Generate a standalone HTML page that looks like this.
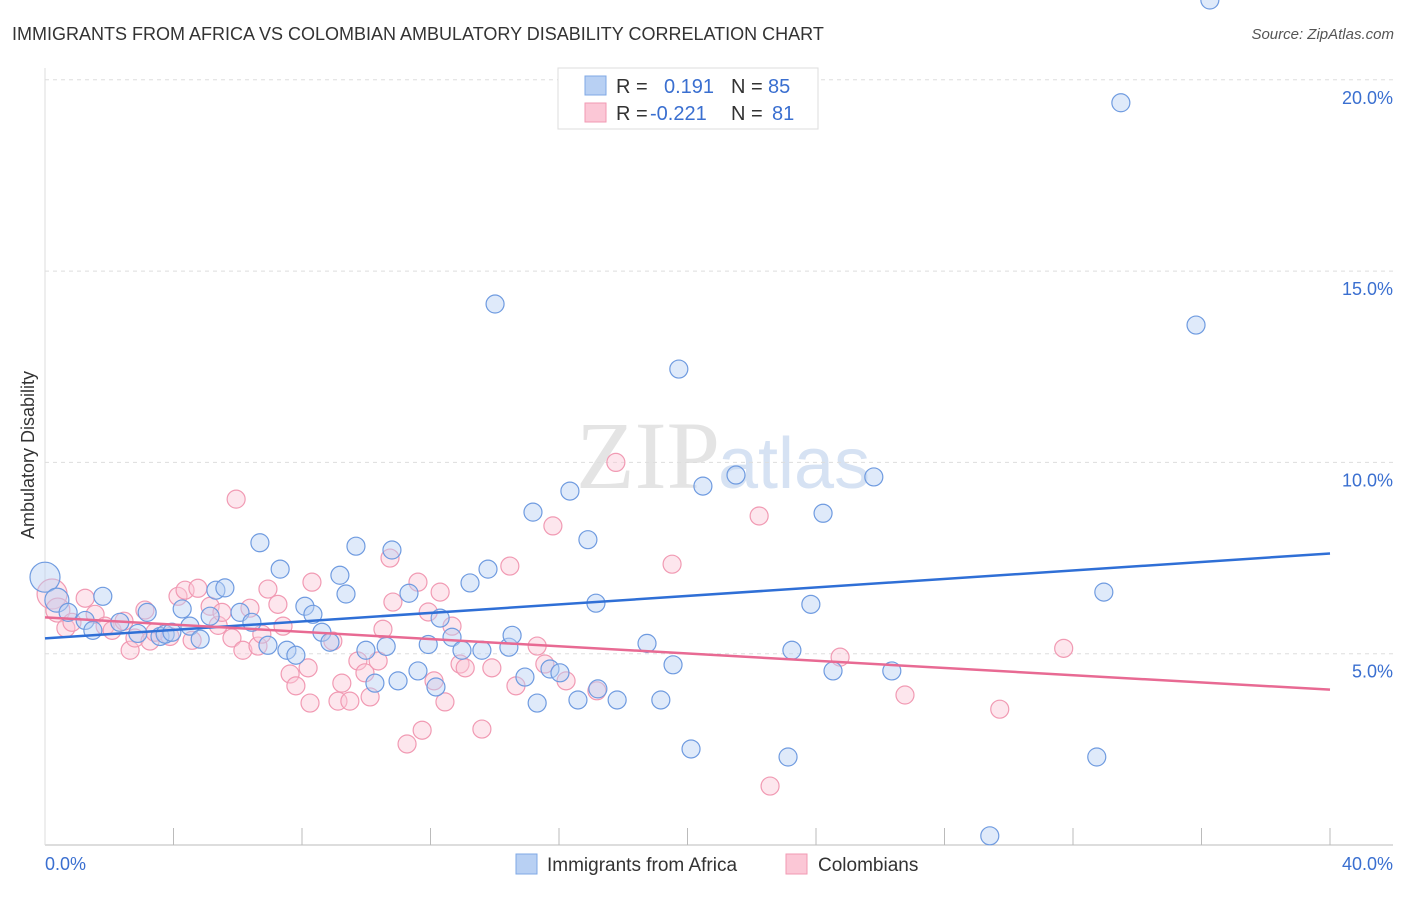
<!DOCTYPE html>
<html><head><meta charset="utf-8"><style>
body{margin:0;background:#fff;font-family:"Liberation Sans",sans-serif;}
</style></head><body>
<svg id="c" width="1406" height="892" xmlns="http://www.w3.org/2000/svg">
<text x="12" y="40" font-size="18" fill="#333">IMMIGRANTS FROM AFRICA VS COLOMBIAN AMBULATORY DISABILITY CORRELATION CHART</text>
<text x="1394" y="39" font-size="15" fill="#555" text-anchor="end" font-style="italic">Source: ZipAtlas.com</text>
<text x="720" y="488" font-size="96" fill="#e4e4e4" text-anchor="end" font-family="Liberation Serif">ZIP</text>
<text x="718" y="488" font-size="72" fill="#d6e2f3">atlas</text>
<g id="grid"></g>
<g id="axes"></g>
<g id="pts"></g>
<g id="lines"></g>
<text transform="translate(34,455) rotate(-90)" font-size="18" fill="#333" text-anchor="middle">Ambulatory Disability</text>
<g>
<rect x="558" y="68" width="260" height="61" fill="#fff" stroke="#ddd"/>
<rect x="585" y="76" width="21" height="19" fill="#b8d0f3" stroke="#7fa8e6"/>
<rect x="585" y="103" width="21" height="19" fill="#fbc7d6" stroke="#f19ab3"/>
<text x="616" y="93" font-size="20" fill="#333">R =</text>
<text x="664" y="93" font-size="20" fill="#3a6fd0">0.191</text>
<text x="731" y="93" font-size="20" fill="#333">N =</text>
<text x="768" y="93" font-size="20" fill="#3a6fd0">85</text>
<text x="616" y="120" font-size="20" fill="#333">R =</text>
<text x="650" y="120" font-size="20" fill="#3a6fd0">-0.221</text>
<text x="731" y="120" font-size="20" fill="#333">N =</text>
<text x="772" y="120" font-size="20" fill="#3a6fd0">81</text>
</g>
<g>
<rect x="516" y="854" width="21" height="20" fill="#b8d0f3" stroke="#7fa8e6"/>
<text x="547" y="871" font-size="19" fill="#333">Immigrants from Africa</text>
<rect x="786" y="854" width="21" height="20" fill="#fbc7d6" stroke="#f19ab3"/>
<text x="818" y="871" font-size="19" fill="#333">Colombians</text>
</g>
</svg>
<script>
const yTicks=[5,10,15,20];
const xTickLabels=["0.0%","40.0%"];
const blueX=[0,0.37,0.72,1.25,1.49,1.8,2.33,2.89,3.18,3.58,3.74,3.95,4.27,4.51,4.83,5.14,5.32,5.6,6.07,6.44,6.69,6.94,7.32,7.53,7.81,8.09,8.34,8.62,8.87,9.18,9.37,9.68,9.99,10.27,10.62,10.8,10.99,11.33,11.61,11.93,12.17,12.3,12.67,12.98,13.23,13.6,13.79,14.01,14.44,14.54,14.94,15.19,15.32,15.72,16.03,16.34,16.59,16.9,17.15,17.21,17.81,18.74,19.17,19.55,19.73,20.11,20.48,21.51,23.13,23.25,23.84,24.22,24.53,25.8,26.36,29.41,32.74,32.96,33.49,35.83,36.26];
const blueY=[7.0,6.4,6.08,5.87,5.61,6.5,5.82,5.53,6.08,5.45,5.51,5.56,6.17,5.72,5.38,5.98,6.66,6.72,6.08,5.82,7.9,5.22,7.21,5.09,4.96,6.24,6.03,5.56,5.3,7.05,6.56,7.81,5.09,4.23,5.19,7.71,4.29,6.58,4.55,5.24,4.13,5.93,5.43,5.09,6.85,5.09,7.21,14.14,5.17,5.48,4.39,8.7,3.71,4.6,4.5,9.25,3.79,7.98,6.32,4.08,3.79,5.27,3.79,4.71,12.44,2.51,9.38,9.67,2.3,5.09,6.29,8.67,4.55,9.62,4.55,0.24,2.3,6.61,19.4,13.59,0]; 
blueY.pop();
const pinkX=[0.22,0.4,0.65,0.84,1.25,1.56,1.87,2.09,2.46,2.65,2.8,3.11,3.27,3.42,3.89,4.14,4.36,4.58,4.76,5.14,5.39,5.51,5.82,5.95,6.16,6.38,6.63,6.75,6.94,7.25,7.41,7.63,7.81,8.19,8.25,8.31,8.96,9.12,9.24,9.49,9.74,9.96,10.12,10.37,10.52,10.74,10.83,11.27,11.61,11.74,11.93,12.11,12.3,12.45,12.67,12.92,13.08,13.6,13.91,14.47,14.66,15.32,15.56,15.81,16.22,17.18,17.77,19.52,22.23,22.57,24.75,26.77,29.72,31.71];
const pinkY=[6.56,6.14,5.67,5.82,6.45,6.03,5.72,5.61,5.85,5.09,5.41,6.14,5.33,5.56,5.45,6.5,6.66,5.35,6.71,6.24,5.74,6.08,5.41,9.04,5.09,6.19,5.2,5.51,6.69,6.29,5.72,4.47,4.16,4.63,3.71,6.87,5.33,3.76,4.23,3.76,4.81,4.5,3.87,4.81,5.64,7.5,6.35,2.64,6.87,3.0,6.09,4.29,6.61,3.74,5.72,4.73,4.63,3.03,4.63,7.29,4.16,5.2,4.73,8.34,4.29,4.03,10.0,7.34,8.6,1.54,4.91,3.92,3.55,5.14];
const blueTrend=[5.4,7.62], pinkTrend=[5.95,4.06];
const NS="http://www.w3.org/2000/svg";
const xs=v=>45+v/40*1285, ys=v=>845-v/5*191.3;
function mk(tag,attrs,parent){const e=document.createElementNS(NS,tag);for(const k in attrs)e.setAttribute(k,attrs[k]);document.getElementById(parent).appendChild(e);return e;}
yTicks.forEach(t=>{
 const l=mk('line',{x1:45,x2:1393,y1:ys(t),y2:ys(t),stroke:'#ddd','stroke-dasharray':'4,4'},'grid');
 
 
 const tx=mk('text',{x:1393,y:ys(t)+24,'font-size':18,fill:'#3a6fd0','text-anchor':'end'},'axes');
 tx.textContent=t.toFixed(1)+'%';
 
 
});
mk('line',{x1:45,x2:1393,y1:845,y2:845,stroke:'#bbb'},'axes');
mk('line',{x1:45,x2:45,y1:68,y2:845,stroke:'#ddd'},'axes');
for(let i=1;i<=10;i++){const t=mk('line',{x1:xs(i*4),x2:xs(i*4),y1:828,y2:845,stroke:'#bbb'},'axes');
 
 }
[[45,'start',0],[1393,'end',1]].forEach(([x,a,i])=>{const t=mk('text',{x:x,y:870,'font-size':18,fill:'#3a6fd0','text-anchor':a},'axes');t.textContent=xTickLabels[i];
 
 });
function pts(X,Y,fill,stroke,name){X.forEach((x,i)=>{const r=(i<2&&x<1)?(i==0?15:12):9;
 const c=mk('circle',{cx:xs(x),cy:ys(Y[i]),r:r,fill:fill,'fill-opacity':0.45,stroke:stroke,'stroke-width':1.2},'pts');
 
 });}
pts(pinkX,pinkY,'#fbc7d6','#f19ab3','colombians-point');
pts(blueX,blueY,'#b8d0f3','#6f9be0','africa-point');
const bl=mk('line',{x1:xs(0),y1:ys(blueTrend[0]),x2:xs(40),y2:ys(blueTrend[1]),stroke:'#2f6fd6','stroke-width':2.5},'lines');


const pl=mk('line',{x1:xs(0),y1:ys(pinkTrend[0]),x2:xs(40),y2:ys(pinkTrend[1]),stroke:'#e86a93','stroke-width':2.5},'lines');


</script>
</body></html>
